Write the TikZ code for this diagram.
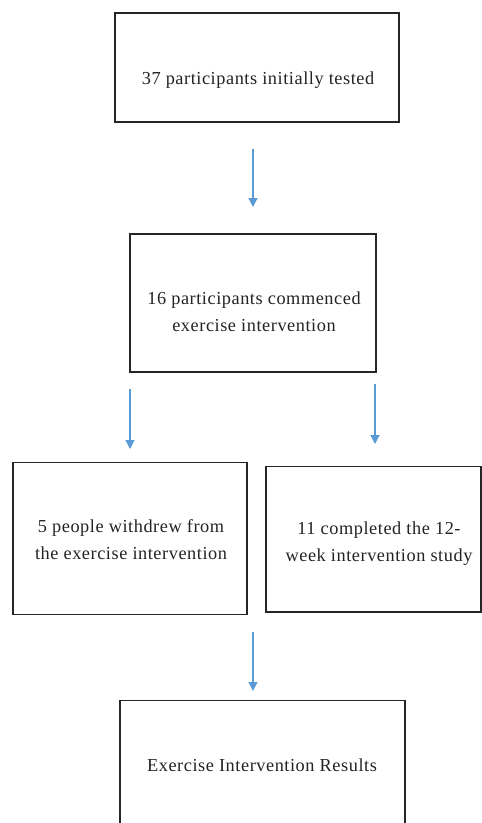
\documentclass[tikz,border=0pt]{standalone}
\usepackage{fontspec}
\setmainfont{Liberation Serif}[LetterSpace=3]
\usetikzlibrary{arrows.meta}
\definecolor{arrowblue}{RGB}{91,155,213}
\definecolor{txt}{RGB}{35,35,35}
\begin{document}
\begin{tikzpicture}[x=1pt,y=-1pt,
  box/.style={draw=black!85,line width=1.3pt},
  lbl/.style={text=txt,font=\fontsize{18.3}{27}\selectfont,align=center,inner sep=0pt},
  flow/.style={draw=arrowblue,line width=1.2pt,-{Triangle[width=9pt,length=9pt]}}]
\useasboundingbox (0,0) rectangle (482,823);
\clip (0,0) rectangle (482,823);
% boxes
\draw[box] (115,13) rectangle (399,122);
\draw[box] (130,234) rectangle (376,372);
\draw[box] (13,462.5) rectangle (247,614.5);
\draw[box] (266,466.5) rectangle (481,612);
\draw[box] (120,700.5) rectangle (405,840);
% labels
\node[lbl] (t1) at (258,80) {37 participants initially tested};
\node[lbl] (t2) at (254,312) {16 participants commenced\\exercise intervention};
\node[lbl] (t3) at (131,540) {5 people withdrew from\\the exercise intervention};
\node[lbl] (t4) at (379,544) {11 completed the 12-\\week intervention study};
\node[lbl] (t5) at (262,765) {Exercise Intervention Results};
% connectors
\coordinate (a1s) at (253,149); \coordinate (a1e) at (253,207);
\coordinate (a2s) at (130,389); \coordinate (a2e) at (130,449);
\coordinate (a3s) at (375,384); \coordinate (a3e) at (375,444);
\coordinate (a4s) at (253,632); \coordinate (a4e) at (253,691);
\draw[flow] (a1s) -- (a1e);
\draw[flow] (a2s) -- (a2e);
\draw[flow] (a3s) -- (a3e);
\draw[flow] (a4s) -- (a4e);
\end{tikzpicture}
\end{document}
